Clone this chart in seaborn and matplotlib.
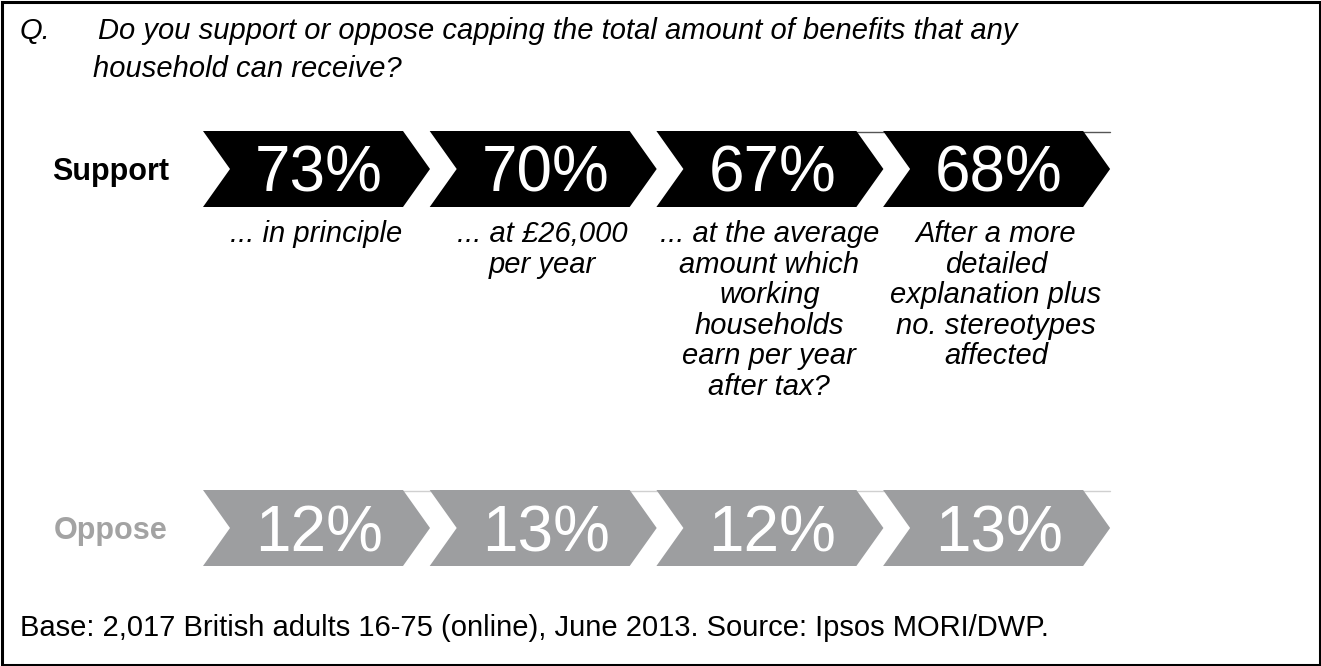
import matplotlib
matplotlib.use("Agg")
import matplotlib.pyplot as plt
from matplotlib.patches import Polygon, Rectangle
import seaborn as sns

# Survey results: support / oppose for capping household benefits
categories = [
    "... in principle",
    "... at \u00a326,000\nper year",
    "... at the average\namount which\nworking\nhouseholds\nearn per year\nafter tax?",
    "After a more\ndetailed\nexplanation plus\nno. stereotypes\naffected",
]
support = [73, 70, 67, 68]
oppose = [12, 13, 12, 13]
row_labels = ["Support", "Oppose"]

question_prefix = "Q."
question_lines = [
    "Do you support or oppose capping the total amount of benefits that any",
    "household can receive?",
]
footnote = "Base: 2,017 British adults 16-75 (online), June 2013. Source: Ipsos MORI/DWP."

sns.set_theme(style="white")
plt.rcParams["font.family"] = ["Liberation Sans", "DejaVu Sans"]
plt.rcParams["text.color"] = "black"

SUPPORT_COLOR = "#000000"
OPPOSE_COLOR = "#9d9ea0"
OPPOSE_TEXT = "#a3a3a3"

W, H = 1321, 666
fig = plt.figure(figsize=(W / 100, H / 100), dpi=100)
ax = fig.add_axes([0, 0, 1, 1])
ax.set_xlim(0, W)
ax.set_ylim(H, 0)
ax.axis("off")

# layout of the chevron rows (pixel-like units)
x_start = 203
pitch = 226.7
body = 200
tip = 27
rows = [
    {"values": support, "top": 131, "bottom": 207, "color": SUPPORT_COLOR,
     "label": row_labels[0], "label_color": "#000000", "guide": "#555555", "guide_from": 2},
    {"values": oppose, "top": 490, "bottom": 566, "color": OPPOSE_COLOR,
     "label": row_labels[1], "label_color": OPPOSE_TEXT, "guide": "#d0d0d0", "guide_from": 0},
]

for row in rows:
    top, bot = row["top"], row["bottom"]
    mid = (top + bot) / 2
    n = len(row["values"])
    # faint rule along the top edge of the row
    gx0 = x_start + row["guide_from"] * pitch + body
    gx1 = x_start + (n - 1) * pitch + body + tip
    ax.plot([gx0, gx1], [top + 0.5, top + 0.5], color=row["guide"], lw=1, zorder=1)
    for i, v in enumerate(row["values"]):
        x0 = x_start + i * pitch
        pts = [(x0, top), (x0 + body, top), (x0 + body + tip, mid),
               (x0 + body, bot), (x0, bot), (x0 + tip, mid)]
        ax.add_patch(Polygon(pts, closed=True, facecolor=row["color"],
                             edgecolor="none", zorder=2))
        ax.text(x0 + 116, mid + 23, f"{v}%", color="white", fontsize=46,
                ha="center", va="baseline", zorder=3)
    ax.text(111, mid + 11, row["label"], color=row["label_color"], fontsize=22,
            fontweight="bold", ha="center", va="baseline")

# category descriptions below the support row
for i, cat in enumerate(categories):
    cx = x_start + i * pitch + 113
    for j, line in enumerate(cat.split("\n")):
        ax.text(cx, 242 + j * 30.6, line, fontsize=21, style="italic",
                ha="center", va="baseline")

# question
ax.text(20, 39, question_prefix, fontsize=21, style="italic", ha="left", va="baseline")
ax.text(98, 39, question_lines[0], fontsize=21, style="italic", ha="left", va="baseline")
ax.text(93, 77, question_lines[1], fontsize=21, style="italic", ha="left", va="baseline")

# footnote
ax.text(20, 636, footnote, fontsize=21, ha="left", va="baseline")

# frame around the whole graphic
ax.add_patch(Rectangle((1.5, 1.5), W - 3, H - 3, fill=False, edgecolor="black", lw=2.2,
                       zorder=5))

fig.savefig("out.png", dpi=100)
